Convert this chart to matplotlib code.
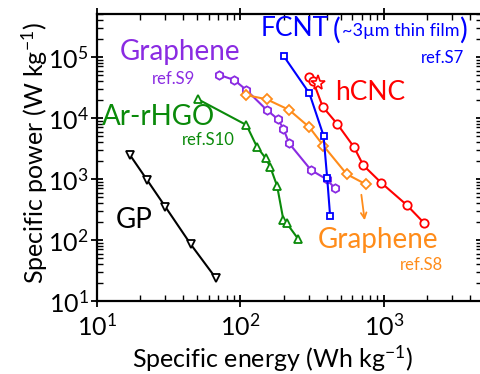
import matplotlib
matplotlib.use("Agg")
import matplotlib.pyplot as plt
from matplotlib.ticker import LogLocator, NullFormatter

plt.rcParams['font.family'] = ['Lato', 'DejaVu Sans']
plt.rcParams['mathtext.fontset'] = 'custom'
plt.rcParams['mathtext.rm'] = 'Lato'
plt.rcParams['mathtext.it'] = 'Lato:italic'

# ---- data (Wh/kg, W/kg) ----
gp_e = [17, 22.4, 29.9, 45, 67.5]
gp_p = [2460, 955, 352, 85, 23.5]

ar_e = [50.3, 110, 130, 150, 161, 180, 199, 210, 253]
ar_p = [20400, 7670, 3390, 2180, 1590, 767, 213, 188, 103]

g9_e = [71, 90.5, 110, 152, 182, 199, 218, 310, 398, 455]
g9_p = [51000, 41900, 28700, 13600, 9600, 6700, 3850, 1400, 990, 705]

g8_e = [109, 152, 218, 302, 378, 550, 750]
g8_p = [23800, 20300, 13600, 7050, 3520, 1200, 815]

fc_e = [201, 302, 379, 402, 421]
fc_p = [102000, 25400, 5130, 1025, 251]

hc_e = [302, 320, 374, 473, 618, 717, 955, 1440, 1910]
hc_p = [46400, 40500, 15300, 7950, 3330, 1680, 870, 375, 188]

star_e = [349]
star_p = [37100]

W, H = 480, 374
fig = plt.figure(figsize=(W / 100, H / 100), dpi=100)
L, R, T, B = 97, 482, 13.5, 301
ax = fig.add_axes([L / W, 1 - B / H, (R - L) / W, (B - T) / H])
ax.set_xscale('log')
ax.set_yscale('log')
ax.set_xlim(10, 10 ** (1 + (R - L) / 143.5))
ax.set_ylim(10, 10 ** (1 + (B - T) / 61.0))

mk = dict(markerfacecolor='white', markersize=6, markeredgewidth=1.3, linewidth=1.5)
ax.plot(gp_e, gp_p, '-', marker='v', color='black', **mk)
ax.plot(ar_e, ar_p, '-', marker='^', color='#0a8a0a', **mk)
ax.plot(g9_e, g9_p, '-', marker='h', color='#8a2be2', **mk)
ax.plot(g8_e, g8_p, '-', marker='D', color='#ff8c1a', markerfacecolor='white',
        markersize=5.5, markeredgewidth=1.3, linewidth=1.5)
ax.plot(fc_e, fc_p, '-', marker='s', color='#0000ff', markerfacecolor='white',
        markersize=5, markeredgewidth=1.3, linewidth=1.5)
ax.plot(hc_e, hc_p, '-', marker='o', color='#ff0000', **mk)
ax.plot(star_e, star_p, linestyle='none', marker='*', color='#ff0000',
        markerfacecolor='white', markersize=11, markeredgewidth=1.2)

# orange arrow
ax.annotate('', xy=(10 ** (1 + (365 - L) / 143.5), 10 ** (1 + (B - 223) / 61.0)),
            xytext=(10 ** (1 + (361 - L) / 143.5), 10 ** (1 + (B - 192) / 61.0)),
            arrowprops=dict(arrowstyle='->', color='#ff8c1a', lw=1.3))

for s in ax.spines.values():
    s.set_linewidth(1.6)
ax.tick_params(which='major', direction='inout', length=8, width=1.3,
               top=True, right=True, labelsize=18, pad=2)
ax.tick_params(axis='x', which='major', pad=5)
ax.tick_params(which='minor', direction='in', length=4, width=1.0, top=True, right=True)
ax.xaxis.set_minor_locator(LogLocator(base=10, subs=range(2, 10), numticks=20))
ax.yaxis.set_minor_locator(LogLocator(base=10, subs=range(2, 10), numticks=20))
ax.xaxis.set_minor_formatter(NullFormatter())
ax.yaxis.set_minor_formatter(NullFormatter())

fig.text(272 / W, 1 - 359 / H, 'Specific energy (Wh kg$^{-1}$)', ha='center', va='center', fontsize=18)
fig.text(35 / W, 1 - 153 / H, 'Specific power (W kg$^{-1}$)', ha='center', va='center',
         fontsize=18, rotation=90)

def t(x, y, s, c, fs, ha='left'):
    fig.text(x / W, 1 - y / H, s, color=c, fontsize=fs, ha=ha, va='center')

t(120, 52, 'Graphene', '#8a2be2', 20)
t(152, 79, 'ref.S9', '#8a2be2', 12)
t(102, 117, 'Ar-rHGO', '#0a8a0a', 20)
t(182, 140, 'ref.S10', '#0a8a0a', 12)
t(261, 28, 'FCNT', '#0000ff', 19)
t(333, 30, '(', '#0000ff', 21)
t(342, 31, '~3µm thin film', '#0000ff', 13)
t(459, 30, ')', '#0000ff', 21)
t(421, 58, 'ref.S7', '#0000ff', 12)
t(335, 93, 'hCNC', '#ff0000', 19)
t(116, 220, 'GP', 'black', 20)
t(318, 240, 'Graphene', '#ff8c1a', 20)
t(400, 265, 'ref.S8', '#ff8c1a', 12)

fig.savefig('out.png', dpi=100)
